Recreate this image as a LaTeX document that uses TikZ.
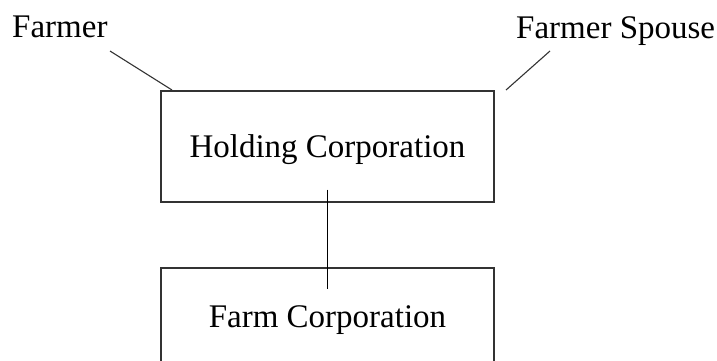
\documentclass[tikz,border=0pt]{standalone}
\usepackage{fontspec}
\setmainfont{Liberation Serif}
\usetikzlibrary{positioning}

\begin{document}
\begin{tikzpicture}[%
  x=1pt,y=-1pt,
  corp/.style={draw=black!80,line width=1.3pt,minimum width=333pt,inner sep=0pt,
    text height=22.5pt,text depth=1.5pt,font=\fontsize{33}{40}\selectfont},
  who/.style={anchor=base west,inner sep=0pt,font=\fontsize{33}{40}\selectfont},
  link/.style={draw=black!80,line width=1.1pt}
]
  \useasboundingbox (0,0) rectangle (717,360);

  \node [corp,minimum height=111pt] (hold) at (327.5,146.5) {Holding Corporation};
  \node [corp,minimum height=97pt] (farm) at (327.5,316.5) {Farm Corporation};

  \node [who] (farmer) at (12,37) {Farmer};
  \node [who] (spouse) at (516,38) {Farmer Spouse};

  \coordinate (f1) at (110,51);
  \coordinate (f2) at (172,90);
  \coordinate (s1) at (550,51);
  \coordinate (s2) at (506,90);

  \draw [link] (f1) -- (f2);
  \draw [link] (s1) -- (s2);
  \draw [link,draw=black] ([yshift=13pt]hold.south) -- ([yshift=-22pt]farm.north);
\end{tikzpicture}
\end{document}
